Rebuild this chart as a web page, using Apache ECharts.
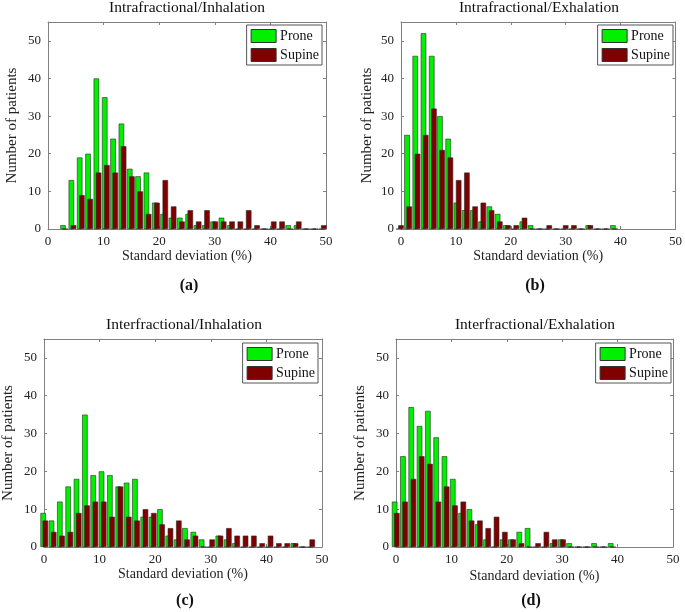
<!DOCTYPE html>
<html>
<head>
<meta charset="utf-8">
<script src="https://cdn.jsdelivr.net/npm/echarts@6/dist/echarts.min.js"></script>
<style>
html,body{margin:0;padding:0;background:#fff;}
#chart{width:685px;height:612px;}
</style>
</head>
<body>
<div id="chart"></div>
<script>
// ---- data (bin centres in %, counts of patients) ----
const binsA = [2.9, 4.4, 5.9, 7.4, 8.9, 10.4, 11.9, 13.4, 14.9, 16.4, 17.9, 19.4, 20.9, 22.4, 23.9, 25.4, 26.9, 28.4, 29.9, 31.4, 32.9, 34.4, 35.9, 37.4, 38.9, 40.4, 41.9, 43.4, 44.9, 46.4, 47.9, 49.4];
const proneA = [1,13,19,20,40,35,24,28,16,14,15,7,4,3,3,4,1,1,2,3,1,0,0,0,0,0,0,1,1,0,0,0];
const supineA = [0,1,9,8,15,17,15,22,14,10,4,7,13,6,2,5,2,5,2,2,2,2,5,1,0,2,2,0,2,0,0,1];

const binsB = [-0.2, 1.3, 2.8, 4.3, 5.8, 7.3, 8.8, 10.3, 11.8, 13.3, 14.8, 16.3, 17.8, 19.3, 20.8, 22.3, 23.8, 25.3, 26.8, 28.3, 29.8, 31.3, 32.8, 34.3, 35.8, 37.3, 38.8];
const proneB = [0,25,46,52,46,30,24,7,5,5,2,6,4,1,0,2,1,0,0,0,0,0,0,1,0,0,1];
const supineB = [1,6,20,25,32,21,19,13,15,6,7,5,2,1,1,3,0,0,1,0,1,1,0,1,0,0,0];

const binsC = [0.05, 1.55, 3.05, 4.55, 6.05, 7.55, 9.05, 10.55, 12.05, 13.55, 15.05, 16.55, 18.05, 19.55, 21.05, 22.55, 24.05, 25.55, 27.05, 28.55, 30.05, 31.55, 33.05, 34.55, 36.05, 37.55, 39.05, 40.55, 42.05, 43.55, 45.05, 46.55, 48.05];
const proneC = [9,7,12,16,18,35,19,20,19,16,17,18,8,8,10,3,2,5,4,2,0,3,2,1,0,0,0,0,0,0,1,0,0];
const supineC = [7,4,3,4,9,11,12,12,8,16,8,7,10,9,6,5,7,2,3,0,2,3,5,3,3,3,1,3,1,1,1,0,2];

const binsD = [-0.05, 1.45, 2.95, 4.45, 5.95, 7.45, 8.95, 10.45, 11.95, 13.45, 14.95, 16.45, 17.95, 19.45, 20.95, 22.45, 23.95, 25.45, 26.95, 28.45, 29.95, 31.45, 32.95, 34.45, 35.95, 37.45, 38.95];
const proneD = [12,24,37,32,36,29,24,18,9,10,6,2,0,2,2,4,5,0,0,1,2,1,0,0,1,0,1];
const supineD = [9,12,18,24,22,12,16,11,12,7,7,5,8,4,2,1,0,1,4,2,2,0,0,0,0,0,0];

const panelTitles = ['Intrafractional/Inhalation', 'Intrafractional/Exhalation', 'Interfractional/Inhalation', 'Interfractional/Exhalation'];
const captions = ['(a)', '(b)', '(c)', '(d)'];
const seriesNames = ['Prone', 'Supine'];
const xTitle = 'Standard deviation (%)';
const yTitle = 'Number of patients';

// ---- layout / style ----
const FONT = "'Liberation Serif', 'DejaVu Serif', serif";
const GREEN = '#00f000';
const RED = '#800000';
const AXIS = '#808080';
const TXT = '#222';

const panels = [
  {bins: binsA, prone: proneA, supine: supineA, grid: {left: 48, top: 22, width: 278, height: 207}, titleX: 187, titleY: 8, capX: 189, capY: 286, legRight: 363, legTop: 25, xGap: 14, yGap: 28},
  {bins: binsB, prone: proneB, supine: supineB, grid: {left: 401, top: 22, width: 276, height: 207}, titleX: 539, titleY: 8, capX: 535, capY: 286, legRight: 12, legTop: 25, xGap: 14, yGap: 26},
  {bins: binsC, prone: proneC, supine: supineC, grid: {left: 43, top: 339, width: 279, height: 208}, titleX: 184, titleY: 325, capX: 185, capY: 601, legRight: 367, legTop: 343, xGap: 14, yGap: 28},
  {bins: binsD, prone: proneD, supine: supineD, grid: {left: 396, top: 339, width: 277, height: 208}, titleX: 535, titleY: 325, capX: 531, capY: 601, legRight: 14, legTop: 343, xGap: 22, yGap: 28}
];

const grid = [], xAxis = [], yAxis = [], series = [], legend = [], graphic = [];
const lineStyle = {color: AXIS, width: 1};

panels.forEach((p, i) => {
  grid.push(Object.assign({containLabel: false}, p.grid));
  // bottom x axis
  xAxis.push({
    type: 'value', gridIndex: i, position: 'bottom', min: 0, max: 50, interval: 10,
    axisLine: {show: true, onZero: false, lineStyle},
    axisTick: {show: true, inside: true, length: 3, lineStyle},
    axisLabel: {fontFamily: FONT, fontSize: 13, color: TXT, margin: 6},
    splitLine: {show: false},
    name: xTitle, nameLocation: 'middle', nameGap: p.xGap,
    nameTextStyle: {fontFamily: FONT, fontSize: 14, color: TXT}
  });
  // top x axis (box + ticks)
  xAxis.push({
    type: 'value', gridIndex: i, position: 'top', min: 0, max: 50, interval: 10,
    axisLine: {show: true, onZero: false, lineStyle},
    axisTick: {show: true, inside: true, length: 3, lineStyle},
    axisLabel: {show: false}, splitLine: {show: false}
  });
  yAxis.push({
    type: 'value', gridIndex: i, position: 'left', min: 0, max: 55, interval: 10,
    axisLine: {show: true, onZero: false, lineStyle},
    axisTick: {show: true, inside: true, length: 3, lineStyle},
    axisLabel: {fontFamily: FONT, fontSize: 13, color: TXT, margin: 7,
      formatter: v => (v > 50 ? '' : String(v))},
    splitLine: {show: false},
    name: yTitle, nameLocation: 'middle', nameGap: p.yGap, nameRotate: 90,
    nameTextStyle: {fontFamily: FONT, fontSize: 15, color: TXT}
  });
  yAxis.push({
    type: 'value', gridIndex: i, position: 'right', min: 0, max: 55, interval: 10,
    axisLine: {show: true, onZero: false, lineStyle},
    axisTick: {show: true, inside: true, length: 3, lineStyle},
    axisLabel: {show: false}, splitLine: {show: false}
  });
  const mk = (name, vals, color) => ({
    type: 'bar', name, xAxisIndex: 2 * i, yAxisIndex: 2 * i,
    data: p.bins.map((b, j) => [b, vals[j]]),
    barWidth: 5.5, barGap: '-60%',
    itemStyle: {color, borderColor: '#2a2a2a', borderWidth: 0.6},
    emphasis: {disabled: true}, animation: false
  });
  series.push(mk(seriesNames[0], p.prone, GREEN));
  series.push(mk(seriesNames[1], p.supine, RED));
  legend.push({
    orient: 'vertical', right: p.legRight, top: p.legTop,
    backgroundColor: '#fff', borderColor: '#555', borderWidth: 1,
    padding: [4, 3, 3, 4], itemGap: 5, itemWidth: 25, itemHeight: 13,
    selectedMode: false,
    textStyle: {fontFamily: FONT, fontSize: 14, color: '#111', padding: [0, 0, 0, -1]},
    data: [
      {name: seriesNames[0], icon: 'rect', itemStyle: {color: GREEN, borderColor: '#333', borderWidth: 1}},
      {name: seriesNames[1], icon: 'rect', itemStyle: {color: RED, borderColor: '#333', borderWidth: 1}}
    ]
  });
  graphic.push({
    type: 'text', x: p.titleX, y: p.titleY,
    style: {text: panelTitles[i], font: '15.5px ' + FONT, fill: '#111', textAlign: 'center', textVerticalAlign: 'middle', align: 'center', verticalAlign: 'middle'}
  });
  graphic.push({
    type: 'text', x: p.capX, y: p.capY,
    style: {text: captions[i], font: 'bold 16px ' + FONT, fill: '#111', textAlign: 'center', textVerticalAlign: 'middle', align: 'center', verticalAlign: 'middle'}
  });
});

const chart = echarts.init(document.getElementById('chart'), null, {renderer: 'canvas'});
chart.setOption({
  animation: false,
  backgroundColor: '#fff',
  grid, xAxis, yAxis, series, legend, graphic
});
</script>
</body>
</html>
